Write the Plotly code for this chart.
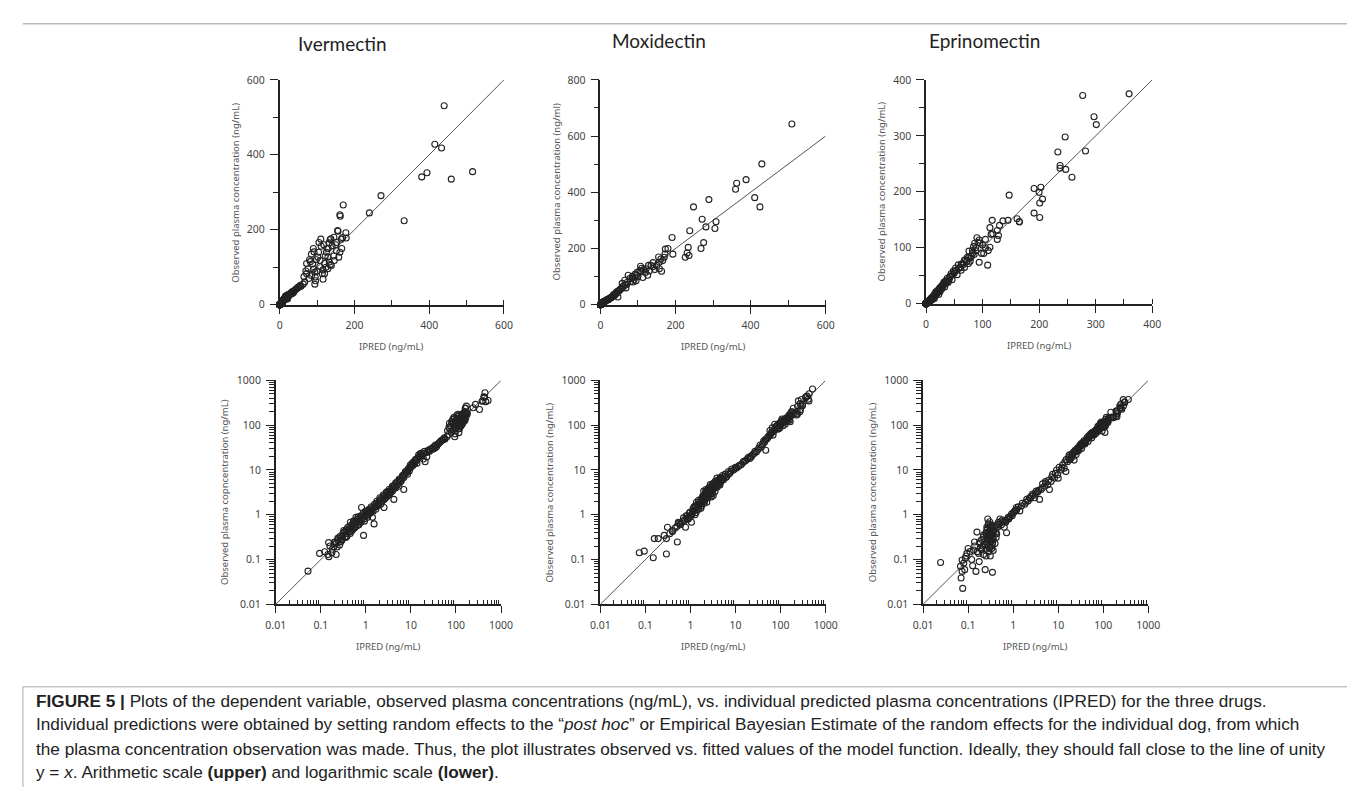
import plotly.graph_objects as go

# ---------------- data (IPRED vs observed, ng/mL) ----------------
ivm_ipred = [0.052, 0.094, 0.122, 0.151, 0.144, 0.176, 0.219, 0.149, 0.195, 0.219, 0.239, 0.273, 0.2, 0.262,
             0.308, 0.323, 0.364, 0.396, 0.346, 0.431, 0.468, 0.51, 0.555, 0.574, 0.453, 0.603, 0.656, 0.714,
             0.803, 0.845, 0.889, 0.776, 0.919, 1.0, 1.09, 1.18, 1.29, 1.52, 1.4, 1.66, 1.8, 1.96, 2.14, 2.32,
             2.53, 2.75, 2.53, 3.0, 3.25, 3.54, 3.85, 4.18, 4.05, 4.56, 4.96, 5.4, 5.87, 6.38, 6.94, 6.94, 7.55,
             8.2, 8.9, 9.7, 10.6, 11.5, 12.5, 13.6, 14.8, 16.1, 19, 22.5, 20.7, 19, 24.6, 29, 34.3, 40.6, 44.3,
             48.3, 57,
             0.25, 0.28, 0.3, 0.33, 0.38, 0.42, 0.45, 0.5, 0.55, 0.6, 0.62, 0.7, 0.75, 0.8, 0.85, 0.95, 1.05,
             1.1, 1.2, 1.25, 1.35, 1.5, 1.6, 1.7, 1.9, 2.0, 2.2, 2.4, 2.6, 2.9, 3.1, 3.4, 3.7, 4.0, 4.3, 4.7,
             5.1, 5.6, 6.1, 6.6, 7.2, 7.8, 8.5, 9.2, 10, 11, 12, 13, 15.5, 17, 18, 21, 26, 31, 37, 53,
             0.16, 0.18, 0.21, 0.23, 0.24, 0.27, 0.29, 0.31, 0.34, 0.36, 0.37, 0.41, 0.44, 0.47, 0.49, 0.52,
             0.53, 0.58, 0.63, 0.66, 0.68, 0.73, 0.78, 0.82, 0.88, 0.93, 0.98, 1.02, 1.15, 1.22, 1.32, 1.45,
             1.55, 1.65, 1.75, 1.85, 2.05, 2.25, 2.45, 2.65, 2.85, 3.05, 3.3, 3.6, 3.9, 4.2, 4.6, 5.0, 5.5, 6.0,
             6.5, 7.0, 7.7, 8.4, 9.0, 9.6, 10.3, 11.2, 12.2, 13.2, 14.2, 15.2, 16.5, 17.5, 20, 23, 25, 27, 30,
             32, 35, 38, 42, 46, 50, 55,
             440, 415, 433, 380, 394, 459, 516, 333, 271, 240, 170, 161, 162, 177, 168, 155, 156, 137, 135, 152,
             140, 166, 105, 111, 92, 102, 82, 88, 107, 116, 94, 114, 76, 72, 95, 96, 94, 116, 129, 133, 138, 124,
             146, 158, 161, 152, 67, 63, 85, 90, 78, 100, 120, 125, 145, 150, 165, 178, 130, 127, 120, 129, 135,
             65, 70, 72, 80, 85, 90, 98, 104, 110, 118, 145, 132, 122, 108]
ivm_obs = [0.055, 0.137, 0.149, 0.116, 0.13, 0.142, 0.13, 0.239, 0.192, 0.227, 0.269, 0.292, 0.247, 0.21,
           0.346, 0.446, 0.377, 0.527, 0.318, 0.41, 0.527, 0.624, 0.679, 0.527, 0.679, 0.874, 0.803, 0.764,
           1.45, 0.874, 0.346, 0.679, 0.803, 1.03, 0.874, 1.22, 1.12, 0.624, 0.874, 1.33, 1.57, 1.86, 1.71, 2.03,
           2.2, 2.4, 1.45, 2.6, 2.84, 3.09, 3.36, 2.2, 3.66, 3.97, 4.7, 4.32, 5.56, 6.57, 3.66, 7.79, 9.2,
           9.2, 10.9, 12.9, 14.1, 15.3, 16.6, 14.1, 21.4, 23.3, 23.3, 19.7, 15.3, 17.5, 27.5, 30, 31, 38.6, 42,
           45.6, 49.3,
           0.3, 0.25, 0.28, 0.4, 0.33, 0.48, 0.38, 0.45, 0.5, 0.55, 0.7, 0.6, 0.9, 0.75, 1.0, 0.95, 1.15,
           1.0, 1.05, 1.35, 1.25, 1.45, 1.55, 1.8, 1.7, 2.1, 2.3, 2.5, 2.7, 3.0, 3.3, 3.2, 3.8, 4.2, 4.5, 5.0,
           5.5, 6.0, 5.8, 7.2, 8.0, 8.5, 10, 9.5, 11.5, 12.5, 13.5, 17.5, 20, 22, 21, 24, 26, 29, 33, 48,
           0.2, 0.17, 0.24, 0.19, 0.3, 0.33, 0.27, 0.38, 0.42, 0.31, 0.47, 0.44, 0.56, 0.42, 0.6, 0.5,
           0.72, 0.62, 0.78, 0.58, 0.9, 0.68, 0.95, 0.82, 1.1, 0.72, 1.2, 0.95, 1.3, 1.1, 1.5, 1.2,
           1.7, 1.5, 2.0, 1.6, 2.4, 2.0, 2.8, 2.3, 3.2, 2.8, 3.7, 3.4, 4.4, 4.0, 5.2, 4.6, 6.3, 5.6,
           7.5, 6.8, 8.8, 8.0, 10.5, 11.5, 12.5, 13.2, 14.5, 16, 18, 19.5, 20.5, 24, 26, 25, 28, 29, 31,
           33, 36, 36, 40, 44, 47, 52,
           531, 428, 418, 341, 352, 335, 355, 224, 291, 245, 266, 240, 236, 192, 179, 198, 196, 176, 174, 166,
           157, 150, 166, 156, 141, 127, 115, 109, 102, 93, 87, 83, 96, 83, 74, 64, 55, 68, 127, 114, 105, 100,
           118, 127, 140, 144, 61, 55, 78, 95, 70, 90, 110, 140, 130, 160, 175, 178, 150, 150, 83, 96, 107,
           75, 90, 110, 120, 135, 150, 120, 140, 175, 160, 180, 165, 130, 118]

mox_ipred = [0.073, 0.094, 0.149, 0.157, 0.192, 0.292, 0.292, 0.26, 0.308, 0.346, 0.396, 0.51, 0.536, 0.603,
             0.714, 0.776, 0.845, 0.919, 1.09, 1.05, 1.18, 1.29, 1.33, 1.47, 1.52, 1.66, 1.75, 1.8, 1.87, 1.96,
             2.06, 2.14, 2.21, 2.32, 2.44, 2.53, 2.61, 2.75, 2.8, 3.0, 3.09, 3.25, 3.42, 3.54, 3.72, 3.85, 4.05,
             4.18, 4.56, 5.12, 5.87, 5.4, 6.94, 8.2, 9.7, 11.5, 13.6, 14.8, 16.1, 18.4, 20.7, 22.5, 25.8, 29,
             31.8, 46.7, 37.5, 40.6, 44.3, 48.3, 52.4, 57,
             1.2, 1.4, 1.6, 1.7, 1.9, 2.0, 2.2, 2.3, 2.4, 2.6, 2.7, 2.9, 3.1, 3.3, 3.5, 3.6, 3.9, 4.3, 4.8, 5.0,
             1.1, 0.95, 1.0, 1.25, 1.55, 1.35, 0.65, 0.58, 0.45, 0.8, 2.1, 2.5, 2.85, 3.2, 4.5, 6.3, 7.5, 10.5,
             1.15, 1.3, 1.45, 1.5, 1.65, 1.75, 1.85, 1.95, 2.05, 2.15, 2.25, 2.35, 2.45, 2.55, 2.65, 2.75, 2.9,
             3.0, 3.15, 3.3, 3.45, 3.6, 3.8, 4.0, 4.2, 4.4, 4.7, 5.2, 5.6, 6.0, 0.7, 0.75, 0.85, 0.9, 0.98,
             1.05, 0.5, 0.4, 0.55, 1.2,
             7, 8, 9, 10, 12, 13, 15, 17, 19, 21, 24, 27, 33, 35, 39, 42, 46, 50, 54,
             510, 430, 388, 363, 360, 411, 425, 289, 308, 305, 281, 271, 275, 268, 248, 238, 234, 231, 236, 226,
             191, 193, 173, 172, 170, 166, 161, 157, 163, 157, 135, 122, 126, 113, 107, 105, 78, 87, 96, 74, 65,
             58, 100, 110, 120, 130, 140, 150, 145, 90, 85, 95, 70, 80, 62, 68,
             60, 66, 72, 85, 92, 98, 108, 115, 128, 140, 155, 180]
mox_obs = [0.142, 0.154, 0.11, 0.293, 0.293, 0.133, 0.293, 0.346, 0.527, 0.377, 0.446, 0.247, 0.679, 0.6,
           0.739, 0.527, 0.803, 0.874, 1.03, 0.679, 1.22, 1.45, 1.12, 1.71, 1.33, 1.86, 1.57, 2.2, 2.61, 3.36,
           2.03, 2.84, 3.66, 3.09, 2.4, 3.97, 3.36, 4.7, 2.84, 4.32, 3.66, 5.1, 3.97, 5.56, 4.32, 6.57, 4.86,
           5.56, 6.8, 7.53, 8.07, 6.05, 9.2, 10.5, 10.9, 11.9, 13.4, 14.8, 15.8, 17.5, 18.1, 19.7, 23.3, 25.3,
           28.5, 27.5, 32.6, 38.6, 42, 49.3, 53.7, 58.3,
           1.5, 1.3, 2.0, 1.4, 2.4, 1.8, 2.5, 1.9, 3.2, 2.9, 3.5, 2.5, 3.0, 4.5, 3.3, 4.9, 4.1, 5.0, 5.8, 6.5,
           1.2, 1.1, 0.9, 1.0, 1.65, 1.9, 0.7, 0.62, 0.5, 0.95, 2.2, 2.6, 3.8, 2.7, 4.6, 7.0, 8.5, 11,
           1.4, 1.6, 1.5, 2.1, 1.7, 2.3, 2.0, 2.7, 2.5, 3.2, 2.7, 3.5, 2.9, 3.3, 4.1, 3.1, 3.6,
           4.8, 3.5, 4.0, 5.2, 4.2, 5.0, 5.9, 4.7, 6.2, 5.4, 6.3, 7.2, 6.8, 0.85, 0.75, 0.95, 0.8, 1.15,
           1.0, 0.55, 0.42, 0.65, 1.25,
           8, 9.5, 10, 11.5, 12.5, 13, 15.5, 16.5, 19, 20, 22, 26, 31, 36, 36, 44, 48, 50, 57,
           643, 501, 445, 432, 411, 381, 348, 374, 295, 271, 277, 304, 221, 200, 348, 263, 204, 184, 175, 169,
           239, 180, 198, 180, 169, 157, 163, 151, 119, 128, 140, 128, 105, 97, 137, 122, 93, 81, 105, 105, 87,
           76, 100, 130, 115, 120, 135, 140, 125, 90, 100, 85, 72, 82, 65, 60,
           66, 72, 80, 95, 108, 115, 118, 125, 140, 150, 170, 200]

epr_ipred = [0.0245, 0.0759, 0.0699, 0.0735, 0.084, 0.0675, 0.08, 0.0735, 0.0866, 0.094, 0.1, 0.132, 0.139,
             0.157, 0.126, 0.149, 0.176, 0.239, 0.346, 0.171, 0.185, 0.2, 0.219, 0.239, 0.247, 0.26, 0.273,
             0.282, 0.292, 0.308, 0.323, 0.334, 0.334, 0.364, 0.383, 0.396, 0.431, 0.453, 0.468, 0.51, 0.574,
             0.714, 0.635, 0.776, 0.919, 1.09, 1.18, 1.4, 1.52, 1.8, 2.14, 2.53, 3.0, 3.25, 3.85, 4.18, 4.96,
             5.87, 6.38, 6.94, 8.2, 9.7, 10, 11.5, 13.6, 14.8, 16.1, 17.5, 19, 20.7, 22.5, 24.6, 26.8, 29.1,
             31.8, 34.3, 37.5, 40.6, 44.3, 48.3, 52.4, 57,
             0.27, 0.29, 0.3, 0.31, 0.28, 0.32, 0.35, 0.3, 0.26, 0.33, 0.25, 0.29, 0.22, 0.31, 0.36, 0.4, 0.28,
             0.24, 0.21, 0.19, 0.35, 0.42, 0.55, 0.6, 0.7, 0.8, 0.65, 1.0, 1.2, 1.3, 2.0, 2.3, 2.8, 3.5, 4.5,
             5.3, 7.5, 12, 18, 21, 23, 25, 28, 30, 33, 36, 39, 42, 46, 50, 55,
             0.09, 0.11, 0.12, 0.14, 0.16, 0.18, 0.2, 0.22, 0.23, 0.25, 0.26, 0.27, 0.28, 0.29, 0.3, 0.31, 0.32,
             0.33, 0.34, 0.36, 0.38, 0.41, 0.44, 0.48, 0.52, 0.27, 0.3, 0.33, 0.25, 0.35,
             0.68, 0.75, 0.85, 0.95, 1.05, 1.15, 1.6, 1.9, 2.4, 2.7, 3.1, 3.7, 4.4, 5.2, 6.1, 7.2, 8.6, 9.2,
             10.5, 12.5, 14, 15, 17, 19, 21, 22, 24, 26, 27, 29, 31, 33, 35, 38, 41, 43, 47, 51, 54, 58,
             359, 277, 297, 301, 282, 246, 233, 237, 237, 247, 258, 191, 203, 200, 201, 206, 191, 201, 147, 161,
             165, 165, 136, 145, 117, 113, 115, 126, 128, 126, 113, 109, 94, 102, 98, 92, 94, 90, 86, 84, 88, 76,
             73, 79, 70, 64, 61, 66, 68, 72, 75, 80, 82, 85, 78, 62, 100, 105, 110,
             62, 68, 75, 82, 88, 95, 105, 118, 130]
epr_obs = [0.0857, 0.0227, 0.0388, 0.0543, 0.0594, 0.0704, 0.083, 0.098, 0.107, 0.137, 0.177, 0.163, 0.247,
           0.41, 0.0725, 0.0543, 0.09, 0.0594, 0.0517, 0.137, 0.227, 0.163, 0.318, 0.21, 0.377, 0.527, 0.803,
           0.624, 0.269, 0.446, 0.346, 0.527, 0.177, 0.293, 0.446, 0.227, 0.377, 0.527, 0.679, 0.803, 0.764,
           0.397, 0.527, 0.874, 1.03, 1.22, 1.45, 1.22, 1.57, 1.71, 2.03, 2.61, 2.4, 3.36, 2.2, 3.66, 4.32,
           4.7, 3.66, 5.56, 6.57, 7.79, 6.57, 10, 10.9, 9.2, 15.3, 21.4, 18.1, 23.3, 16.6, 25.3, 30, 32.6,
           38.6, 35.4, 45.6, 42, 53.7, 58.3, 63.8, 69.5,
           0.35, 0.42, 0.3, 0.55, 0.2, 0.25, 0.38, 0.7, 0.45, 0.6, 0.12, 0.15, 0.13, 0.12, 0.16, 0.5, 0.28,
           0.25, 0.2, 0.18, 0.23, 0.31, 0.6, 0.7, 0.75, 0.8, 0.72, 1.1, 1.3, 1.5, 2.2, 2.4, 2.7, 3.2, 4.9,
           5.1, 8.0, 11, 17, 20, 26, 22, 27, 35, 30, 40, 38, 48, 43, 55, 52,
           0.12, 0.15, 0.1, 0.2, 0.15, 0.25, 0.28, 0.35, 0.22, 0.4, 0.32, 0.5, 0.6, 0.38, 0.45, 0.33, 0.5,
           0.4, 0.3, 0.45, 0.55, 0.4, 0.6, 0.62, 0.7, 0.22, 0.18, 0.2, 0.17, 0.27,
           0.68, 0.8, 0.9, 0.95, 1.15, 1.25, 1.8, 1.9, 2.3, 2.9, 3.0, 3.5, 4.0, 5.5, 5.9, 7.0, 8.4, 10,
           11.5, 13, 15, 17, 19, 22, 23, 25, 28, 27, 31, 29, 34, 37, 41, 40, 45, 49, 52, 58, 60, 63,
           375, 372, 334, 320, 273, 298, 271, 247, 242, 240, 226, 206, 208, 199, 180, 187, 162, 154, 194, 152,
           146, 147, 148, 149, 149, 136, 124, 131, 122, 115, 101, 69, 74, 90, 90, 110, 114, 118, 108, 102, 95,
           94, 83, 82, 78, 72, 65, 70, 65, 75, 72, 85, 90, 88, 76, 60, 105, 100, 95,
           70, 78, 82, 95, 100, 108, 115, 125, 140]

drugs = ["Ivermectin", "Moxidectin", "Eprinomectin"]
ipred = [ivm_ipred, mox_ipred, epr_ipred]
obs = [ivm_obs, mox_obs, epr_obs]

lin_x_max = [600, 600, 400]
lin_y_max = [600, 800, 400]
lin_major = [200, 200, 100]
lin_minor = [100, 100, 50]
log_ticks = [0.01, 0.1, 1, 10, 100, 1000]
log_ticktext = ["0.01", "0.1", "1", "10", "100", "1000"]
log_minor = [m * d for d in [0.01, 0.1, 1, 10, 100] for m in range(2, 10)]

top_ytitles = ["Observed plasma concentration (ng/mL)",
               "Observed plasma concentration (ng/ml)",
               "Observed plasma concentration (ng/mL)"]
bot_ytitles = ["Observed plasma copncentration (ng/mL)",
               "Observed plasma concentration (ng/mL)",
               "Observed plasma concentration (ng/mL)"]
xtitle = "IPRED (ng/mL)"

caption_lines = [
    "<b>FIGURE 5 |</b> Plots of the dependent variable, observed plasma concentrations (ng/mL), vs. individual predicted plasma concentrations (IPRED) for the three drugs.",
    "Individual predictions were obtained by setting random effects to the \u201c<i>post hoc</i>\u201d or Empirical Bayesian Estimate of the random effects for the individual dog, from which",
    "the plasma concentration observation was made. Thus, the plot illustrates observed vs. fitted values of the model function. Ideally, they should fall close to the line of unity",
    "y = <i>x</i>. Arithmetic scale <b>(upper)</b> and logarithmic scale <b>(lower)</b>.",
]

# ---------------- layout geometry (pixels) ----------------
W, H = 1355, 787
top_boxes = [(266, 494, 66, 295), (592, 821, 66, 295), (923, 1153, 66, 294)]
bot_boxes = [(262, 491, 372, 600), (592, 821, 372, 600), (920, 1149, 372, 600)]
title_pos = [(330, 29), (652, 26), (982, 26)]


def fx(p):
    return p / W


def fy(p):
    return 1 - p / H


fig = go.Figure()
axis_font = dict(family="Noto Sans, Open Sans, sans-serif", size=10.5, color="#444")
title_font = dict(family="Noto Sans, Open Sans, sans-serif", size=9.5, color="#555")
line_col = "#222"
marker_style = dict(symbol="circle-open", size=6, color="#222", line=dict(width=1.1))

annotations = []
for i in range(3):
    # ---- linear panel ----
    k = i + 1
    x0, x1, y0, y1 = top_boxes[i]
    xa = dict(domain=[fx(x0), fx(x1)], range=[0, lin_x_max[i]], anchor="y%d" % k,
              showline=True, linecolor=line_col, linewidth=1.5, showgrid=False, zeroline=False,
              ticks="outside", ticklen=7, tickwidth=1.2, tickcolor=line_col, dtick=lin_major[i], tick0=0,
              tickfont=axis_font, ticklabelstandoff=3,
              minor=dict(dtick=lin_minor[i], tick0=0, ticks="inside", ticklen=5, tickwidth=1.2,
                         tickcolor=line_col, showgrid=False))
    ya = dict(domain=[fy(y1), fy(y0)], range=[0, lin_y_max[i]], anchor="x%d" % k,
              showline=True, linecolor=line_col, linewidth=1.5, showgrid=False, zeroline=False,
              ticks="outside", ticklen=8, tickwidth=1.2, tickcolor=line_col, dtick=lin_major[i], tick0=0,
              tickfont=axis_font, ticklabelstandoff=3,
              minor=dict(dtick=lin_minor[i], tick0=0, ticks="outside", ticklen=5, tickwidth=1.2,
                         tickcolor=line_col, showgrid=False))
    fig.update_layout(**{"xaxis%d" % k: xa, "yaxis%d" % k: ya})
    fig.add_trace(go.Scatter(x=[0, lin_x_max[i]], y=[0, lin_x_max[i]], mode="lines",
                             line=dict(color="#555", width=1), xaxis="x%d" % k, yaxis="y%d" % k,
                             showlegend=False, hoverinfo="skip"))
    fig.add_trace(go.Scatter(x=ipred[i], y=obs[i], mode="markers", cliponaxis=False, marker=marker_style,
                             xaxis="x%d" % k, yaxis="y%d" % k, showlegend=False))
    annotations.append(dict(text=top_ytitles[i], x=fx(x0 - 45), y=fy((y0 + y1) / 2), xref="paper",
                            yref="paper", textangle=-90, showarrow=False, font=title_font,
                            xanchor="center", yanchor="middle"))
    annotations.append(dict(text=xtitle, x=fx((x0 + x1) / 2), y=fy(y1 + 42), xref="paper", yref="paper",
                            showarrow=False, font=title_font, xanchor="center", yanchor="middle"))
    annotations.append(dict(text=drugs[i], x=fx(title_pos[i][0]), y=fy(title_pos[i][1]), xref="paper",
                            yref="paper", showarrow=False,
                            font=dict(family="Lato, sans-serif", size=19, color="#222"),
                            xanchor="center", yanchor="middle"))

    # ---- log panel ----
    k = i + 4
    x0, x1, y0, y1 = bot_boxes[i]
    xa = dict(domain=[fx(x0), fx(x1)], type="log", range=[-2, 3], anchor="y%d" % k,
              showline=True, linecolor=line_col, linewidth=1.5, showgrid=False, zeroline=False,
              tickmode="array", tickvals=log_ticks, ticktext=log_ticktext,
              ticks="outside", ticklen=7, tickwidth=1.2, tickcolor=line_col,
              tickfont=axis_font, ticklabelstandoff=3,
              minor=dict(tickmode="array", tickvals=log_minor, ticks="inside", ticklen=5, tickwidth=1.2,
                         tickcolor=line_col, showgrid=False))
    ya = dict(domain=[fy(y1), fy(y0)], type="log", range=[-2, 3], anchor="x%d" % k,
              showline=True, linecolor=line_col, linewidth=1.5, showgrid=False, zeroline=False,
              tickmode="array", tickvals=log_ticks, ticktext=log_ticktext,
              ticks="outside", ticklen=8, tickwidth=1.2, tickcolor=line_col,
              tickfont=axis_font, ticklabelstandoff=3,
              minor=dict(tickmode="array", tickvals=log_minor, ticks="outside", ticklen=5, tickwidth=1.2,
                         tickcolor=line_col, showgrid=False))
    fig.update_layout(**{"xaxis%d" % k: xa, "yaxis%d" % k: ya})
    fig.add_trace(go.Scatter(x=[log_ticks[0], log_ticks[-1]], y=[log_ticks[0], log_ticks[-1]], mode="lines",
                             line=dict(color="#555", width=1), xaxis="x%d" % k, yaxis="y%d" % k,
                             showlegend=False, hoverinfo="skip"))
    fig.add_trace(go.Scatter(x=ipred[i], y=obs[i], mode="markers", cliponaxis=False, marker=marker_style,
                             xaxis="x%d" % k, yaxis="y%d" % k, showlegend=False))
    annotations.append(dict(text=bot_ytitles[i], x=fx(x0 - 52), y=fy((y0 + y1) / 2), xref="paper",
                            yref="paper", textangle=-90, showarrow=False, font=title_font,
                            xanchor="center", yanchor="middle"))
    annotations.append(dict(text=xtitle, x=fx((x0 + x1) / 2), y=fy(y1 + 43), xref="paper", yref="paper",
                            showarrow=False, font=title_font, xanchor="center", yanchor="middle"))

# caption
cap_y = [698, 722, 747, 771]
for line, yy in zip(caption_lines, cap_y):
    annotations.append(dict(text=line, x=fx(16), y=fy(yy), xref="paper", yref="paper", showarrow=False,
                            xanchor="left", yanchor="middle", align="left",
                            font=dict(family="Liberation Sans, Arial, sans-serif", size=17.2, color="#222")))

shapes = [
    dict(type="rect", xref="paper", yref="paper", x0=fx(5), x1=fx(1352), y0=fy(684), y1=fy(800),
         line=dict(color="#aaa", width=1), fillcolor="rgba(0,0,0,0)", layer="below"),
    dict(type="line", xref="paper", yref="paper", x0=fx(5), x1=fx(1352), y0=fy(9), y1=fy(9),
         line=dict(color="#999", width=1)),
]

fig.update_layout(width=W, height=H, margin=dict(l=0, r=0, t=0, b=0), paper_bgcolor="white",
                  plot_bgcolor="white", annotations=annotations, shapes=shapes, showlegend=False)

fig.write_html("out.html")
